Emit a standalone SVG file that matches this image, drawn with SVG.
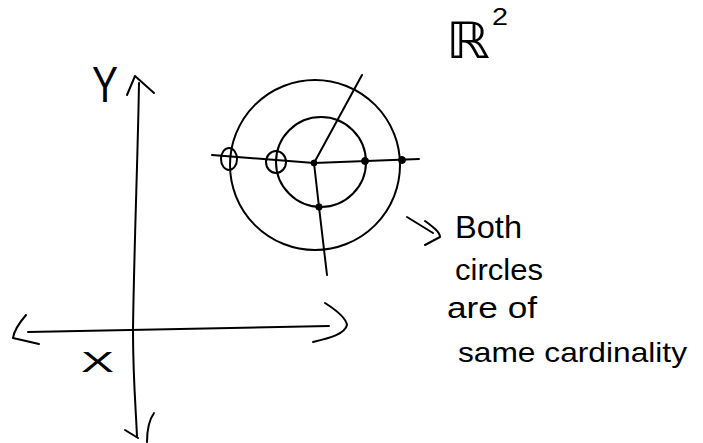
<svg xmlns="http://www.w3.org/2000/svg" width="703" height="443" viewBox="0 0 703 443">
<style>
.s{fill:none;stroke:#000;stroke-width:2;stroke-linecap:round;stroke-linejoin:round}
.d{fill:#000;stroke:#000;stroke-width:1}
.t{font-family:"Liberation Sans","DejaVu Sans",sans-serif;fill:#000}
</style>
<rect width="703" height="443" fill="#fff"/>
<g id="axes">
<path class="s" d="M139,83 C138,150 134,250 133,330 C133,380 136,410 137,437"/>
<path class="s" d="M127,95 L135,76 L154,93"/>
<path class="s" d="M125,430 L138,438"/>
<path class="s" d="M154,413 C149,420 147,430 147,442"/>
<path class="s" d="M28,332 L329,326"/>
<path class="s" d="M26,315 C20,322 14,330 13,338 L39,344"/>
<path class="s" d="M325,303 C336,310 346,318 347,325 C345,334 330,338 313,342"/>
</g>
<g id="axis-labels">
<text class="t" x="92" y="102" font-size="50" textLength="26" lengthAdjust="spacingAndGlyphs">Y</text>
<text class="t" x="81" y="372" font-size="30" textLength="33" lengthAdjust="spacingAndGlyphs">X</text>
<text x="446" y="58" font-family="DejaVu Sans, sans-serif" font-size="50" textLength="44" lengthAdjust="spacingAndGlyphs">ℝ</text>
<text class="t" x="492" y="25" font-size="23" textLength="16" lengthAdjust="spacingAndGlyphs">2</text>
</g>
<g id="circles">
<circle class="s" cx="315" cy="165" r="85"/>
<circle class="s" cx="321" cy="162" r="45"/>
</g>
<g id="connectors">
<path class="s" d="M212,155 L314,163 L419,159"/>
<path class="s" d="M314,163 L362,75"/>
<path class="s" d="M314,163 L319,207 L327,275"/>
</g>
<g id="points">
<ellipse class="s" cx="229" cy="159" rx="8" ry="11"/>
<ellipse class="s" cx="276" cy="162" rx="10" ry="11"/>
<circle class="d" cx="314" cy="163" r="3"/>
<circle class="d" cx="365" cy="161" r="3.5"/>
<circle class="d" cx="402" cy="160" r="3.5"/>
<circle class="d" cx="319" cy="207" r="3.2"/>
</g>
<g id="note">
<path class="s" d="M407,217 L433,233"/>
<path class="s" d="M425,221 C433,227 440,232 440,237 L425,245"/>
<text class="t" x="455" y="238" font-size="32" textLength="67" lengthAdjust="spacingAndGlyphs">Both</text>
<text class="t" x="455" y="280" font-size="30" textLength="88" lengthAdjust="spacingAndGlyphs">circles</text>
<text class="t" x="447" y="318" font-size="30" textLength="90" lengthAdjust="spacingAndGlyphs">are of</text>
<text class="t" x="458" y="362" font-size="28" textLength="229" lengthAdjust="spacingAndGlyphs">same cardinality</text>
</g>
</svg>
